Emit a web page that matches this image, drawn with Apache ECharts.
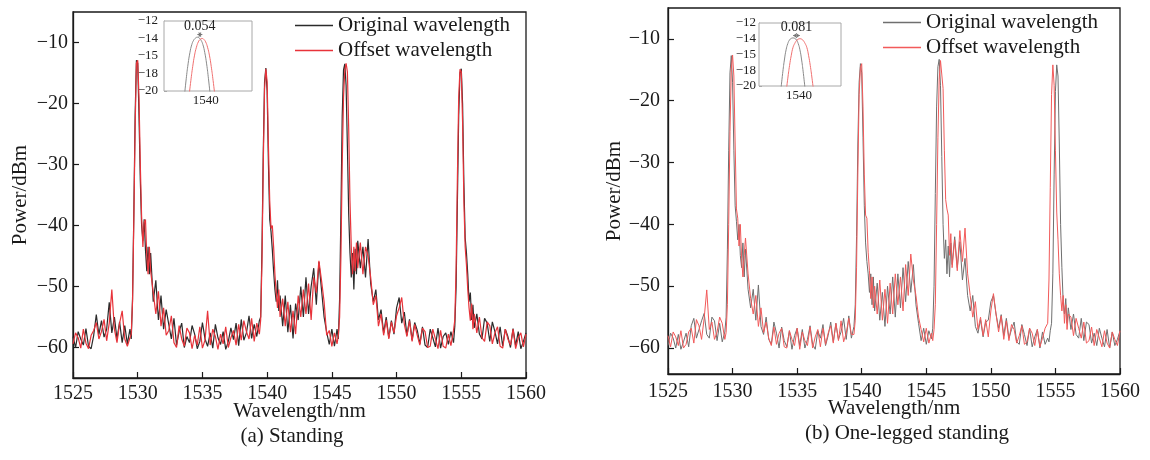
<!DOCTYPE html>
<html><head><meta charset="utf-8">
<script src="https://cdn.jsdelivr.net/npm/echarts@6/dist/echarts.min.js"></script>
<style>html,body{margin:0;padding:0;background:#fff}#c{width:1150px;height:460px}</style>
</head><body><div id="c"></div>
<script>
// ---------- shared wavelength grid (nm) ----------
const wavelength = [
 1525,1525.2,1525.4,1525.6,1525.8,1526,1526.2,1526.4,1526.6,1526.8,1527,1527.2,1527.4,1527.6,1527.8,1528,1528.2,1528.4,1528.6,1528.8,1529,1529.2,
 1529.4,1529.5,1529.6,1529.7,1529.8,1529.9,1530,1530.1,1530.2,1530.3,1530.4,1530.5,1530.6,1530.7,1530.8,1530.9,1531,
 1531.2,1531.4,1531.6,1531.8,1532,1532.2,1532.4,1532.6,1532.8,1533,1533.2,1533.4,1533.6,1533.8,1534,1534.2,1534.4,1534.6,1534.8,1535,1535.2,1535.4,1535.6,1535.8,1536,1536.2,1536.4,1536.6,1536.8,1537,1537.2,1537.4,1537.6,1537.8,1538,1538.2,1538.4,1538.6,1538.8,1539,1539.2,
 1539.4,1539.5,1539.6,1539.7,1539.8,1539.9,1540,1540.1,1540.2,1540.3,1540.4,1540.5,1540.6,1540.7,1540.8,1540.9,1541,
 1541.2,1541.4,1541.6,1541.8,1542,1542.2,1542.4,1542.6,1542.8,1543,1543.2,1543.4,1543.6,1543.8,1544,1544.2,1544.4,1544.6,1544.8,1545,1545.2,
 1545.4,1545.5,1545.6,1545.7,1545.8,1545.9,1546,1546.1,1546.2,1546.3,1546.4,1546.5,1546.6,1546.7,1546.8,1546.9,1547,
 1547.2,1547.4,1547.6,1547.8,1548,1548.2,1548.4,1548.6,1548.8,1549,1549.2,1549.4,1549.6,1549.8,1550,1550.2,1550.4,1550.6,1550.8,1551,1551.2,1551.4,1551.6,1551.8,1552,1552.2,1552.4,1552.6,1552.8,1553,1553.2,1553.4,1553.6,1553.8,1554,1554.2,
 1554.4,1554.5,1554.6,1554.7,1554.8,1554.9,1555,1555.1,1555.2,1555.3,1555.4,1555.5,1555.6,1555.7,1555.8,1555.9,1556,
 1556.2,1556.4,1556.6,1556.8,1557,1557.2,1557.4,1557.6,1557.8,1558,1558.2,1558.4,1558.6,1558.8,1559,1559.2,1559.4,1559.6,1559.8,1560
];

// ---------- (a) Standing ----------
const standingOriginal = [
 -58.2,-60.0,-57.4,-58.6,-59.6,-56.9,-59.8,-60.2,-58.0,-54.6,-57.9,-55.6,-58.3,-57.0,-52.6,-57.6,-55.0,-58.6,-55.8,-59.2,-56.4,-59.4,
 -57.0,-58.6,-52.0,-38.0,-22.0,-12.9,-13.4,-22.0,-32.5,-40.0,-42.5,-39.0,-44.0,-47.5,-43.5,-48.0,-44.5,
 -52.5,-49.0,-55.5,-51.5,-57.0,-53.8,-56.2,-58.6,-55.2,-59.6,-57.4,-56.0,-60.0,-58.2,-59.2,-56.4,-57.8,-60.2,-59.0,-55.9,-58.6,-59.8,-57.6,-60.1,-56.2,-58.4,-59.5,-57.4,-60.3,-59.0,-56.8,-58.7,-56.0,-59.7,-55.4,-58.8,-57.6,-54.8,-58.5,-56.2,-58.2,
 -55.6,-55.0,-44.0,-28.0,-16.5,-14.2,-18.0,-30.0,-39.0,-41.0,-44.0,-47.5,-50.5,-52.5,-49.0,-54.0,-51.5,
 -56.5,-51.5,-57.5,-53.0,-58.5,-52.8,-55.5,-50.0,-55.0,-48.5,-54.5,-50.0,-47.0,-53.0,-46.0,-50.5,-55.0,-57.5,-59.5,-57.0,-59.8,
 -57.0,-58.6,-52.0,-38.0,-22.0,-14.5,-13.5,-17.0,-27.0,-38.0,-44.5,-48.5,-44.5,-50.5,-43.8,-48.0,-42.5,
 -47.0,-43.5,-48.5,-42.2,-49.5,-52.5,-50.5,-55.5,-53.8,-57.6,-55.0,-58.4,-55.6,-57.8,-53.5,-51.8,-56.0,-54.2,-58.0,-55.4,-58.8,-55.9,-57.2,-59.4,-56.6,-59.6,-60.0,-57.0,-58.4,-59.9,-56.8,-60.1,-58.2,-57.6,-59.5,-57.4,
 -59.2,-56.5,-50.0,-36.0,-22.0,-15.0,-14.3,-20.0,-33.0,-42.0,-44.5,-48.0,-52.5,-51.0,-55.5,-53.0,-56.8,
 -54.5,-57.8,-58.6,-55.2,-56.0,-59.0,-55.8,-57.4,-59.4,-56.6,-59.8,-57.0,-58.2,-60.0,-56.9,-59.7,-57.4,-60.2,-59.0,-57.6
];
const standingOffset = [
 -59.4,-57.6,-58.4,-60.1,-57.0,-59.3,-60.2,-58.0,-57.2,-55.9,-58.6,-57.4,-55.4,-58.9,-56.0,-50.5,-57.0,-59.2,-56.0,-54.0,-58.6,-59.8,
 -58.4,-57.8,-52.5,-39.0,-24.0,-13.4,-12.9,-19.0,-30.0,-38.5,-43.5,-39.5,-39.0,-45.0,-48.0,-43.5,-47.5,
 -51.0,-54.5,-50.8,-56.5,-53.5,-58.0,-57.2,-54.8,-59.2,-60.0,-56.4,-58.6,-59.8,-56.8,-57.6,-60.2,-58.0,-59.6,-56.6,-60.1,-58.8,-54.0,-59.6,-57.0,-58.2,-60.3,-57.8,-59.4,-56.6,-60.0,-58.4,-57.2,-59.6,-56.2,-58.8,-55.6,-57.4,-58.6,-55.2,-59.0,-56.0,
 -57.8,-55.5,-46.0,-30.0,-17.5,-14.3,-16.5,-27.0,-36.0,-40.5,-40.0,-43.5,-48.0,-51.0,-53.5,-50.5,-55.0,
 -52.0,-56.5,-52.5,-57.5,-54.0,-57.8,-51.5,-55.0,-50.5,-54.5,-49.5,-55.5,-48.5,-51.0,-45.8,-49.0,-52.5,-58.0,-57.2,-59.8,-57.6,
 -59.4,-58.0,-55.0,-45.0,-30.0,-19.0,-14.5,-13.4,-14.8,-24.0,-36.0,-43.5,-48.0,-43.5,-47.5,-42.8,-47.0,
 -42.8,-48.0,-43.5,-45.0,-48.5,-53.0,-51.5,-56.5,-54.5,-58.0,-55.5,-58.6,-55.8,-57.6,-54.8,-53.5,-51.8,-56.2,-58.2,-55.6,-59.0,-56.2,-58.0,-59.6,-56.8,-57.4,-60.0,-59.8,-57.0,-58.6,-60.2,-57.2,-59.8,-60.1,-57.8,-59.7,
 -57.2,-55.5,-47.0,-32.0,-19.0,-14.4,-14.8,-23.0,-36.0,-43.5,-46.5,-50.5,-53.5,-55.6,-52.8,-57.0,-54.5,
 -57.6,-55.0,-58.4,-59.0,-55.8,-56.4,-59.4,-57.6,-56.6,-59.8,-60.1,-57.0,-58.6,-59.6,-57.0,-60.2,-58.4,-57.6,-59.9,-57.8
];

// ---------- (b) One-legged standing ----------
const oneLegOriginal = [
 -59.6,-57.6,-58.4,-60.0,-57.8,-60.2,-59.0,-57.6,-59.8,-56.4,-55.2,-58.4,-57.0,-55.6,-54.4,-57.8,-58.4,-55.0,-55.6,-58.8,-56.0,-59.0,
 -57.4,-55.0,-44.0,-28.0,-15.5,-12.7,-17.0,-28.0,-37.0,-39.5,-42.5,-40.0,-45.0,-47.0,-43.0,-48.5,-44.0,
 -50.5,-53.5,-50.5,-55.5,-49.8,-56.5,-57.8,-55.0,-58.6,-59.4,-55.8,-57.6,-60.0,-56.6,-58.8,-59.8,-57.2,-60.2,-58.0,-56.8,-59.6,-57.0,-60.0,-58.6,-56.4,-59.4,-60.2,-57.2,-58.4,-56.2,-59.6,-58.0,-55.8,-59.0,-56.0,-58.6,-57.4,-55.2,-58.6,-54.8,-58.4,
 -56.5,-53.0,-42.0,-27.0,-17.0,-14.0,-15.5,-26.0,-37.0,-43.0,-46.0,-48.0,-51.0,-48.0,-53.0,-48.5,-54.0,
 -49.5,-55.5,-51.0,-56.5,-50.0,-54.5,-48.5,-55.0,-48.0,-53.5,-47.0,-52.5,-46.0,-51.0,-46.5,-53.0,-56.0,-58.8,-56.8,-59.4,-57.2,
 -58.5,-56.8,-50.0,-35.0,-21.0,-14.5,-13.3,-17.5,-29.0,-40.0,-45.5,-42.5,-48.0,-43.5,-48.5,-43.0,-46.5,
 -42.0,-47.0,-42.8,-49.0,-45.5,-51.5,-54.0,-51.5,-56.5,-57.6,-55.4,-58.2,-55.8,-55.5,-52.5,-51.5,-54.5,-56.8,-54.6,-58.0,-55.2,-58.4,-57.0,-55.8,-59.0,-59.4,-56.2,-57.8,-59.6,-56.8,-59.8,-58.2,-57.0,-60.0,-57.4,-59.4,
 -58.4,-59.0,-57.2,-56.0,-48.0,-32.0,-18.5,-14.2,-16.0,-27.0,-40.0,-47.0,-52.5,-54.5,-52.0,-56.0,-53.5,
 -57.0,-54.5,-57.8,-58.4,-55.2,-58.8,-55.8,-56.2,-59.2,-57.6,-59.6,-56.8,-58.4,-59.8,-57.0,-60.0,-57.4,-59.6,-58.6,-57.2
];
const oneLegOffset = [
 -58.0,-59.8,-57.4,-58.2,-59.6,-57.2,-60.0,-59.4,-57.4,-56.8,-59.2,-55.4,-56.4,-58.6,-55.2,-50.6,-57.0,-55.8,-58.6,-57.4,-55.0,-56.0,
 -58.6,-57.5,-53.0,-40.0,-25.0,-15.0,-12.6,-16.0,-27.0,-37.5,-39.0,-43.5,-40.0,-45.5,-48.5,-45.0,-42.2,
 -48.0,-52.0,-54.5,-51.5,-56.5,-53.5,-57.5,-55.8,-58.4,-59.6,-56.6,-59.4,-57.6,-56.8,-59.8,-60.0,-57.2,-58.6,-59.6,-56.8,-60.2,-57.4,-58.8,-59.6,-56.6,-60.0,-58.2,-57.0,-59.8,-56.8,-59.4,-57.6,-56.4,-59.2,-56.0,-58.8,-55.6,-59.0,-57.6,-55.2,-57.8,
 -57.8,-55.5,-47.0,-32.0,-19.0,-14.6,-14.0,-21.0,-32.0,-38.5,-39.0,-44.5,-47.5,-52.0,-48.5,-53.5,-50.0,
 -54.5,-49.0,-55.5,-50.5,-56.0,-49.5,-54.5,-48.0,-53.0,-48.5,-54.0,-46.5,-51.5,-44.8,-49.0,-51.5,-55.0,-57.0,-59.0,-56.8,-59.2,
 -57.6,-58.8,-57.0,-53.0,-40.0,-26.0,-16.5,-13.5,-13.3,-18.0,-28.0,-36.0,-37.5,-38.5,-45.0,-41.5,-47.0,
 -42.5,-47.5,-41.0,-46.0,-40.6,-48.0,-51.5,-55.0,-52.5,-57.0,-55.0,-58.0,-55.4,-58.2,-54.0,-51.2,-54.5,-57.4,-54.8,-58.6,-55.6,-58.8,-56.2,-57.0,-59.2,-58.0,-56.4,-59.4,-59.0,-56.8,-57.6,-59.6,-57.0,-59.8,-58.4,-56.8,
 -56.0,-49.0,-34.0,-19.0,-14.2,-17.5,-28.0,-38.0,-42.5,-48.0,-51.5,-54.0,-51.5,-56.0,-53.0,-57.0,-54.5,
 -55.0,-58.0,-55.2,-56.8,-58.4,-55.8,-59.2,-58.8,-56.6,-59.6,-57.0,-58.4,-59.8,-57.2,-59.2,-60.0,-57.4,-58.6,-59.6,-57.2
];

// ---------- insets (zoom on the 1540 nm peak) ----------
const insetA_origX = [1539.77,1539.79,1539.81,1539.83,1539.85,1539.87,1539.89,1539.91,1539.93,1539.95,1539.97,1539.99,1540.01,1540.03,1540.05];
const insetA_origY = [-20.6,-18.6,-16.9,-15.6,-14.7,-14.2,-13.95,-13.85,-13.95,-14.2,-14.7,-15.6,-16.9,-18.6,-20.6];
const insetA_offX  = [1539.82,1539.84,1539.86,1539.88,1539.90,1539.92,1539.94,1539.964,1539.98,1540.00,1540.02,1540.04,1540.06,1540.08,1540.10];
const insetA_offY  = [-20.6,-18.8,-17.2,-15.9,-15.0,-14.4,-14.1,-14.0,-14.1,-14.4,-15.0,-15.9,-17.2,-18.8,-20.6];
const insetB_origX = [1539.79,1539.81,1539.83,1539.85,1539.87,1539.89,1539.91,1539.93,1539.95,1539.97,1539.99,1540.01,1540.03,1540.05,1540.07];
const insetB_origY = [-20.4,-18.4,-16.7,-15.4,-14.6,-14.15,-13.95,-13.9,-13.95,-14.15,-14.6,-15.4,-16.7,-18.4,-20.4];
const insetB_offX  = [1539.85,1539.87,1539.89,1539.91,1539.93,1539.95,1539.97,1539.99,1540.01,1540.03,1540.05,1540.07,1540.09,1540.11,1540.13,1540.15,1540.17];
const insetB_offY  = [-20.8,-19.0,-17.4,-16.1,-15.1,-14.6,-14.25,-14.05,-14.0,-14.05,-14.25,-14.6,-15.1,-16.1,-17.4,-19.0,-20.8];
const insetShiftA = [1539.91, 1539.964];   // peak positions, shift 0.054
const insetShiftB = [1539.93, 1540.01];    // peak positions, shift 0.081
const insetShiftLabels = ['0.054', '0.081'];
const insetYTickLabels = ['\u221220', '\u221218', '\u221215', '\u221214', '\u221212'];
const insetXTicks = [1540];

// ---------- ticks and labels ----------
const mainYTicks = [-60, -50, -40, -30, -20, -10];
const seriesNames = ['Original wavelength', 'Offset wavelength'];
const subTitles = ['(a) Standing', '(b) One-legged standing'];
const axisNames = ['Wavelength/nm', 'Power/dBm'];

const FONT = "'Liberation Serif','Times New Roman',serif";
const INK = '#1a1a1a';
const minus = v => String(v).replace('-', '\u2212');
const plain = v => String(v);
const pairs = ys => wavelength.map((x, i) => [x, ys[i]]);
const zip = (xs, ys) => xs.map((x, i) => [x, ys[i]]);

const C_A = ['#2b2b2b', '#e8333a'];
const C_B = ['#6f6f6f', '#f25a5a'];

function mainX(gi, gap, margin) {
  return {
    gridIndex: gi, type: 'value', min: 1525, max: 1560, interval: 5,
    axisLine: { lineStyle: { color: INK, width: 1.3 } },
    axisTick: { inside: true, length: 6, lineStyle: { color: INK, width: 1.2 } },
    axisLabel: { fontSize: 20, color: INK, fontFamily: FONT, margin: margin, formatter: plain },
    splitLine: { show: false },
    name: axisNames[0], nameLocation: 'middle', nameGap: gap, nameMoveOverlap: false,
    nameTextStyle: { fontSize: 21, color: INK, fontFamily: FONT }
  };
}
function mainY(gi, min, gap, margin) {
  return {
    gridIndex: gi, type: 'value', min: min, max: -5,
    axisLine: { lineStyle: { color: INK, width: 1.3 } },
    axisTick: { inside: true, length: 6, customValues: mainYTicks, lineStyle: { color: INK, width: 1.2 } },
    axisLabel: { fontSize: 20, color: INK, fontFamily: FONT, margin: margin, customValues: mainYTicks, formatter: minus },
    splitLine: { show: false },
    name: axisNames[1], nameLocation: 'middle', nameGap: gap,
    nameTextStyle: { fontSize: 21, color: INK, fontFamily: FONT }
  };
}
function insetX(gi, min, max) {
  return {
    gridIndex: gi, type: 'value', min: min, max: max,
    axisLine: { show: false }, axisTick: { show: false }, splitLine: { show: false },
    axisLabel: { customValues: insetXTicks, fontSize: 13, color: '#222', fontFamily: FONT, margin: 3, formatter: plain }
  };
}
function insetY(gi, margin) {
  return {
    gridIndex: gi, type: 'value', min: -20, max: -12, interval: 2,
    axisLine: { show: true, lineStyle: { color: '#a8a8a8', width: 1 } },
    axisTick: { show: true, inside: true, length: 3, lineStyle: { color: '#a8a8a8' } },
    splitLine: { show: false },
    axisLabel: { fontSize: 13, color: '#222', fontFamily: FONT, margin: margin,
      formatter: v => insetYTickLabels[Math.round((v + 20) / 2)] }
  };
}
function mainLine(name, xi, data, color, width, z) {
  return { type: 'line', name: name, xAxisIndex: xi, yAxisIndex: xi, data: data,
    symbol: 'none', showSymbol: false, lineStyle: { color: color, width: width },
    itemStyle: { color: color }, z: z, silent: true };
}
function insetLine(xi, data, color) {
  return { type: 'line', xAxisIndex: xi, yAxisIndex: xi, data: data, symbol: 'none', showSymbol: false,
    lineStyle: { color: color, width: 1 }, itemStyle: { color: color }, z: 5, silent: true, smooth: true };
}
function shiftMark(shift, label, y) {
  return {
    silent: true, symbol: ['arrow', 'arrow'], symbolSize: [4, 4],
    lineStyle: { color: '#777', width: 0.8, type: 'solid' },
    label: { show: true, position: 'middle', formatter: label, fontSize: 14, color: '#222', fontFamily: FONT, distance: 1 },
    data: [[{ coord: [shift[0], y] }, { coord: [shift[1], y] }]]
  };
}
function legend(left, top, colors) {
  return {
    orient: 'vertical', left: left, top: top, padding: 0, itemWidth: 38, itemHeight: 1.5, itemGap: 4,
    selectedMode: false, icon: 'rect',
    textStyle: { fontSize: 21, color: INK, fontFamily: FONT, lineHeight: 21 },
    data: seriesNames.map((n, i) => ({ name: n, icon: 'rect', itemStyle: { color: colors[i] } }))
  };
}

const chart = echarts.init(document.getElementById('c'), null, { renderer: 'canvas' });
const insA_orig = insetLine(2, zip(insetA_origX, insetA_origY), '#8a8a8a');
insA_orig.markLine = shiftMark(insetShiftA, insetShiftLabels[0], -13.55);
const insB_orig = insetLine(3, zip(insetB_origX, insetB_origY), '#8a8a8a');
insB_orig.markLine = shiftMark(insetShiftB, insetShiftLabels[1], -13.6);

chart.setOption({
  animation: false,
  backgroundColor: '#fff',
  grid: [
    { left: 73, top: 12, width: 453, height: 366, show: true, borderColor: INK, borderWidth: 1.3 },
    { left: 668, top: 8, width: 452, height: 366, show: true, borderColor: INK, borderWidth: 1.3 },
    { left: 164, top: 21, width: 88, height: 70, show: true, borderColor: '#a8a8a8', borderWidth: 1, backgroundColor: '#fff', z: 4 },
    { left: 759, top: 23, width: 82, height: 63, show: true, borderColor: '#a8a8a8', borderWidth: 1, backgroundColor: '#fff', z: 4 }
  ],
  xAxis: [ mainX(0, 23, 6), mainX(1, 24, 8), insetX(2, 1539.55, 1540.5), insetX(3, 1539.536, 1540.486) ],
  yAxis: [ mainY(0, -65, 42, 5), mainY(1, -64.2, 43, 8), insetY(2, 6), insetY(3, 3) ],
  legend: [ legend(295, 15, C_A), legend(883, 12, C_B) ],
  graphic: [
    { type: 'text', x: 292, y: 436, style: { text: subTitles[0], fontSize: 21, fontFamily: FONT, fill: INK, align: 'center', verticalAlign: 'middle' } },
    { type: 'text', x: 907, y: 433, style: { text: subTitles[1], fontSize: 21, fontFamily: FONT, fill: INK, align: 'center', verticalAlign: 'middle' } }
  ],
  series: [
    mainLine(seriesNames[0], 0, pairs(standingOriginal), C_A[0], 1.2, 2),
    mainLine(seriesNames[1], 0, pairs(standingOffset), C_A[1], 1.2, 3),
    mainLine(seriesNames[0], 1, pairs(oneLegOriginal), C_B[0], 1.0, 2),
    mainLine(seriesNames[1], 1, pairs(oneLegOffset), C_B[1], 1.0, 3),
    insA_orig,
    insetLine(2, zip(insetA_offX, insetA_offY), '#f07070'),
    insB_orig,
    insetLine(3, zip(insetB_offX, insetB_offY), '#f07070')
  ]
});
</script></body></html>
